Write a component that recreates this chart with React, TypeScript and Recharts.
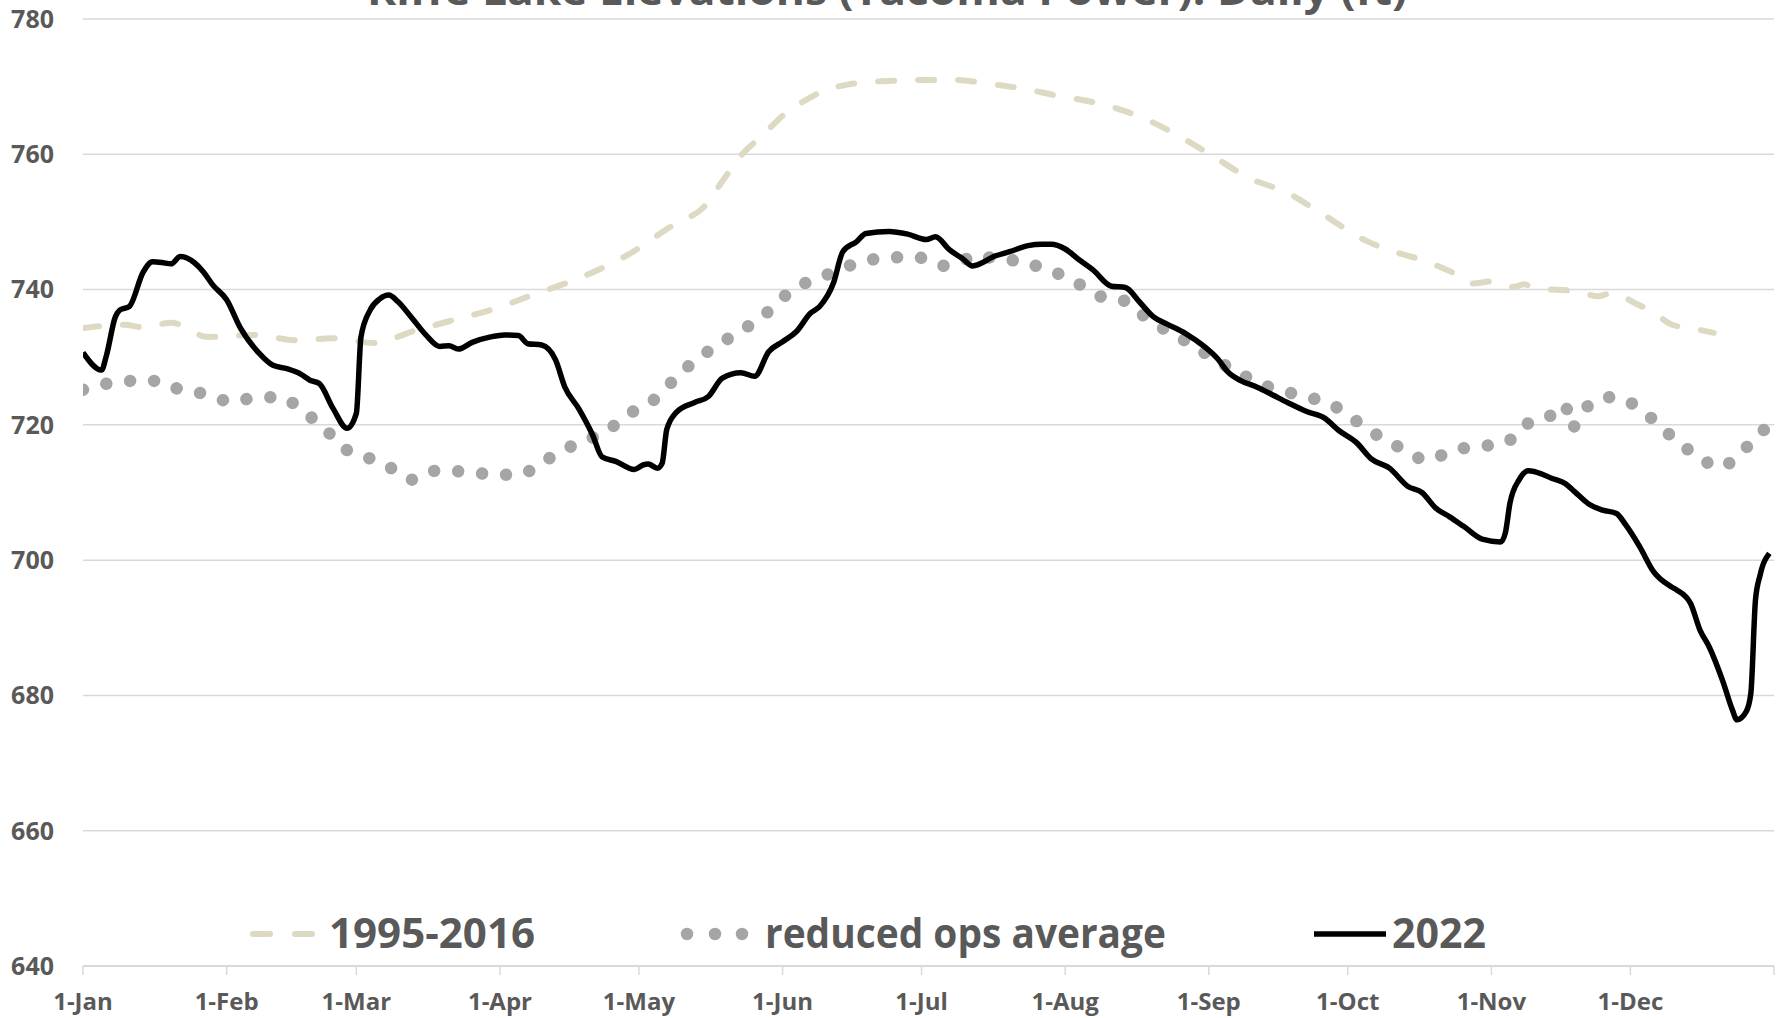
import React from "react";
import { LineChart, Line, XAxis, YAxis, CartesianGrid } from "recharts";

// Day-of-year (0 = 1-Jan) and elevation in ft
const obs2022: [number, number][] = [
  [0, 730.7], [4, 728.1], [5, 730.1], [7, 736.0], [8, 737.0], [10, 737.5], [13, 742.6], [15, 744.1],
  [17, 744.0], [19, 743.8], [21, 744.9], [24, 744.0], [26, 742.6], [28, 740.7], [31, 738.5], [34, 734.3],
  [38, 730.6], [41, 728.8], [44, 728.3], [47, 727.5], [49, 726.6], [51, 726.1], [54, 722.4], [57, 719.5],
  [59, 721.7], [60, 733.0], [62, 737.0], [64, 738.6], [66, 739.2], [68, 738.2], [71, 735.8], [74, 733.3],
  [77, 731.6], [79, 731.7], [81, 731.2], [84, 732.2], [88, 733.0], [91, 733.3], [94, 733.2], [96, 732.0],
  [99, 731.8], [102, 729.6], [104, 725.6], [107, 722.4], [110, 718.5], [112, 715.3], [115, 714.6], [119, 713.4],
  [121, 714.1], [122, 714.2], [124, 713.6], [125, 714.3], [126, 719.3], [128, 721.8], [132, 723.3], [135, 724.2],
  [138, 726.9], [142, 727.7], [145, 727.2], [148, 730.8], [151, 732.3], [154, 733.8], [157, 736.5], [159, 737.5],
  [162, 741.0], [164, 745.6], [167, 747.1], [169, 748.3], [174, 748.6], [178, 748.2], [182, 747.4], [184, 747.8],
  [187, 745.9], [190, 744.5], [192, 743.5], [197, 745.0], [200, 745.6], [204, 746.5], [207, 746.7], [209, 746.7],
  [212, 746.0], [215, 744.4], [218, 742.9], [222, 740.5], [225, 740.3], [228, 738.2], [231, 736.0], [234, 734.9],
  [238, 733.5], [242, 731.6], [245, 729.7], [247, 727.9], [250, 726.5], [253, 725.7], [256, 724.7], [260, 723.3],
  [264, 722.0], [268, 721.0], [271, 719.2], [275, 717.3], [278, 715.0], [282, 713.6], [286, 710.9], [289, 710.0],
  [292, 707.7], [295, 706.4], [298, 705.0], [302, 703.1], [306, 702.7], [307, 704.0], [308, 708.4], [310, 711.9],
  [312, 713.2], [315, 712.7], [317, 712.1], [320, 711.3], [322, 710.1], [325, 708.3], [328, 707.4], [331, 706.9],
  [333, 705.2], [336, 702.0], [339, 698.3], [343, 696.0], [344, 695.6], [347, 693.6], [349, 689.7], [351, 687.2],
  [354, 682.0], [356, 677.9], [357, 676.4], [359, 677.6], [360, 680.3], [361, 694.1], [362, 697.8], [364, 701.0],
];

const obsAvg: [number, number][] = [
  [0, 734.3], [9, 734.8], [13, 734.4], [19, 735.1], [27, 733.0], [37, 733.3], [46, 732.5], [54, 732.8],
  [63, 732.1], [71, 733.8], [80, 735.5], [89, 737.2], [97, 739.2], [106, 741.4], [117, 744.9], [128, 749.8],
  [134, 752.2], [138, 756.0], [142, 759.8], [147, 763.0], [151, 765.7], [155, 767.6], [160, 769.4], [165, 770.3],
  [170, 770.7], [176, 770.9], [182, 771.0], [188, 771.0], [193, 770.7], [198, 770.2], [203, 769.7], [210, 768.7],
  [218, 767.7], [228, 765.6], [235, 763.3], [243, 760.1], [252, 756.4], [260, 754.3], [267, 751.4], [277, 747.2],
  [283, 745.6], [287, 744.8], [292, 743.6], [296, 742.4], [300, 740.9], [304, 741.2], [309, 740.4], [311, 740.8],
  [313, 740.3], [317, 740.0], [322, 739.8], [327, 739.0], [330, 739.5], [335, 738.0], [339, 736.6], [343, 734.8],
  [347, 734.3], [352, 733.6],
];

const obsReduced: [number, number][] = [
  [0, 725.2], [6, 726.2], [11, 726.5], [16, 726.5], [21, 725.2], [27, 724.5], [32, 723.4], [37, 724.0],
  [43, 724.1], [47, 722.2], [52, 719.6], [56, 716.7], [61, 715.3], [66, 713.8], [71, 711.9], [76, 713.2],
  [82, 713.1], [88, 712.7], [94, 712.6], [99, 714.4], [104, 716.4], [109, 717.8], [114, 719.6], [119, 722.1],
  [124, 724.1], [128, 727.0], [132, 729.4], [137, 731.8], [142, 733.9], [147, 736.2], [151, 738.8], [156, 741.0],
  [161, 742.3], [167, 743.9], [172, 744.6], [178, 744.8], [182, 744.6], [186, 743.5], [189, 744.0], [193, 745.1],
  [199, 744.2], [202, 744.4], [204, 743.9], [210, 742.5], [215, 740.8], [220, 738.9], [225, 738.3], [229, 736.1],
  [234, 733.9], [239, 732.0], [244, 729.8], [249, 727.9], [254, 726.1], [259, 725.0], [265, 724.0], [270, 722.8],
  [275, 720.5], [280, 718.2], [285, 716.4], [290, 714.8], [296, 716.3], [301, 716.8], [307, 717.3], [311, 719.9],
  [316, 721.0], [320, 723.0], [321, 719.5], [323, 720.6], [325, 722.9], [330, 724.1], [335, 722.9], [340, 720.1],
  [344, 717.6], [349, 715.2], [353, 713.7], [358, 715.9], [362, 718.9], [363, 719.3],
];

const monthTicks = [0, 31, 59, 90, 120, 151, 181, 212, 243, 273, 304, 334, 365];
const monthLabels = ["1-Jan", "1-Feb", "1-Mar", "1-Apr", "1-May", "1-Jun", "1-Jul", "1-Aug", "1-Sep", "1-Oct", "1-Nov", "1-Dec", ""];
const elevTicks = [640, 660, 680, 700, 720, 740, 760, 780];
const seriesNames = ["1995-2016", "reduced ops average", "2022"];
const titleText = "Riffe Lake Elevations (Tacoma Power): Daily (ft)";

const toRows = (pairs: [number, number][]) => pairs.map(([day, v]) => ({ day, v }));

const FONT = "'Open Sans', 'DejaVu Sans', sans-serif";
const TEXT = "#595959";
const TAN = "#ddd9c3";
const GRAY = "#a5a5a5";
const GRID = "#d9d9d9";

export default function App() {
  const tickStyle = { fontFamily: FONT, fontWeight: 700, fill: TEXT };
  return (
    <div style={{ position: "absolute", left: 0, top: 0, width: 1787, height: 1018, background: "#fff", overflow: "hidden" }}>
      <LineChart width={1787} height={1018} margin={{ top: 19, right: 13, bottom: 0, left: 0 }}>
        <CartesianGrid vertical={false} stroke={GRID} strokeWidth={1.5} />
        <XAxis
          dataKey="day"
          type="number"
          domain={[0, 365]}
          ticks={monthTicks}
          interval={0}
          height={52}
          tickFormatter={(v: number) => monthLabels[monthTicks.indexOf(v)] ?? ""}
          axisLine={{ stroke: GRID, strokeWidth: 2 }}
          tickLine={{ stroke: GRID, strokeWidth: 1.5 }}
          tickSize={9}
          tickMargin={18}
          tick={{ ...tickStyle, fontSize: 24 }}
          allowDataOverflow
        />
        <YAxis
          type="number"
          domain={[640, 780]}
          ticks={elevTicks}
          interval={0}
          width={83}
          axisLine={false}
          tickLine={false}
          tickSize={0}
          tickMargin={29}
          tick={{ ...tickStyle, fontSize: 25 }}
          allowDataOverflow
        />
        <Line
          data={toRows(obsAvg)}
          dataKey="v"
          type="monotone"
          stroke={TAN}
          strokeWidth={6}
          strokeDasharray="16 24"
          strokeLinecap="round"
          dot={false}
          activeDot={false}
          isAnimationActive={false}
          name={seriesNames[0]}
        />
        <Line
          data={toRows(obsReduced)}
          dataKey="v"
          type="monotone"
          stroke={GRAY}
          strokeWidth={12.5}
          strokeDasharray="0.01 24"
          strokeLinecap="round"
          dot={false}
          activeDot={false}
          isAnimationActive={false}
          name={seriesNames[1]}
        />
        <Line
          data={toRows(obs2022)}
          dataKey="v"
          type="monotone"
          stroke="#000"
          strokeWidth={5.5}
          strokeLinejoin="round"
          dot={false}
          activeDot={false}
          isAnimationActive={false}
          name={seriesNames[2]}
        />
      </LineChart>
      <svg width={1787} height={1018} style={{ position: "absolute", left: 0, top: 0, pointerEvents: "none" }}>
        <text x={887} y={5} textAnchor="middle" fontFamily={FONT} fontWeight={700} fontSize={42} fill={TEXT}
          textLength={1040} lengthAdjust="spacingAndGlyphs">{titleText}</text>
        {/* legend */}
        <line x1={253} x2={314} y1={934} y2={934} stroke={TAN} strokeWidth={6} strokeDasharray="17 25" strokeLinecap="round" />
        <text x={329} y={948} fontFamily={FONT} fontWeight={700} fontSize={42} fill={TEXT} textLength={206} lengthAdjust="spacingAndGlyphs">{seriesNames[0]}</text>
        <circle cx={687} cy={934} r={6.25} fill={GRAY} />
        <circle cx={715} cy={934} r={6.25} fill={GRAY} />
        <circle cx={742} cy={934} r={6.25} fill={GRAY} />
        <text x={765} y={948} fontFamily={FONT} fontWeight={700} fontSize={42} fill={TEXT} textLength={401} lengthAdjust="spacingAndGlyphs">{seriesNames[1]}</text>
        <line x1={1314} x2={1386} y1={934} y2={934} stroke="#000" strokeWidth={5.5} />
        <text x={1392} y={948} fontFamily={FONT} fontWeight={700} fontSize={42} fill={TEXT} textLength={94} lengthAdjust="spacingAndGlyphs">{seriesNames[2]}</text>
      </svg>
    </div>
  );
}
